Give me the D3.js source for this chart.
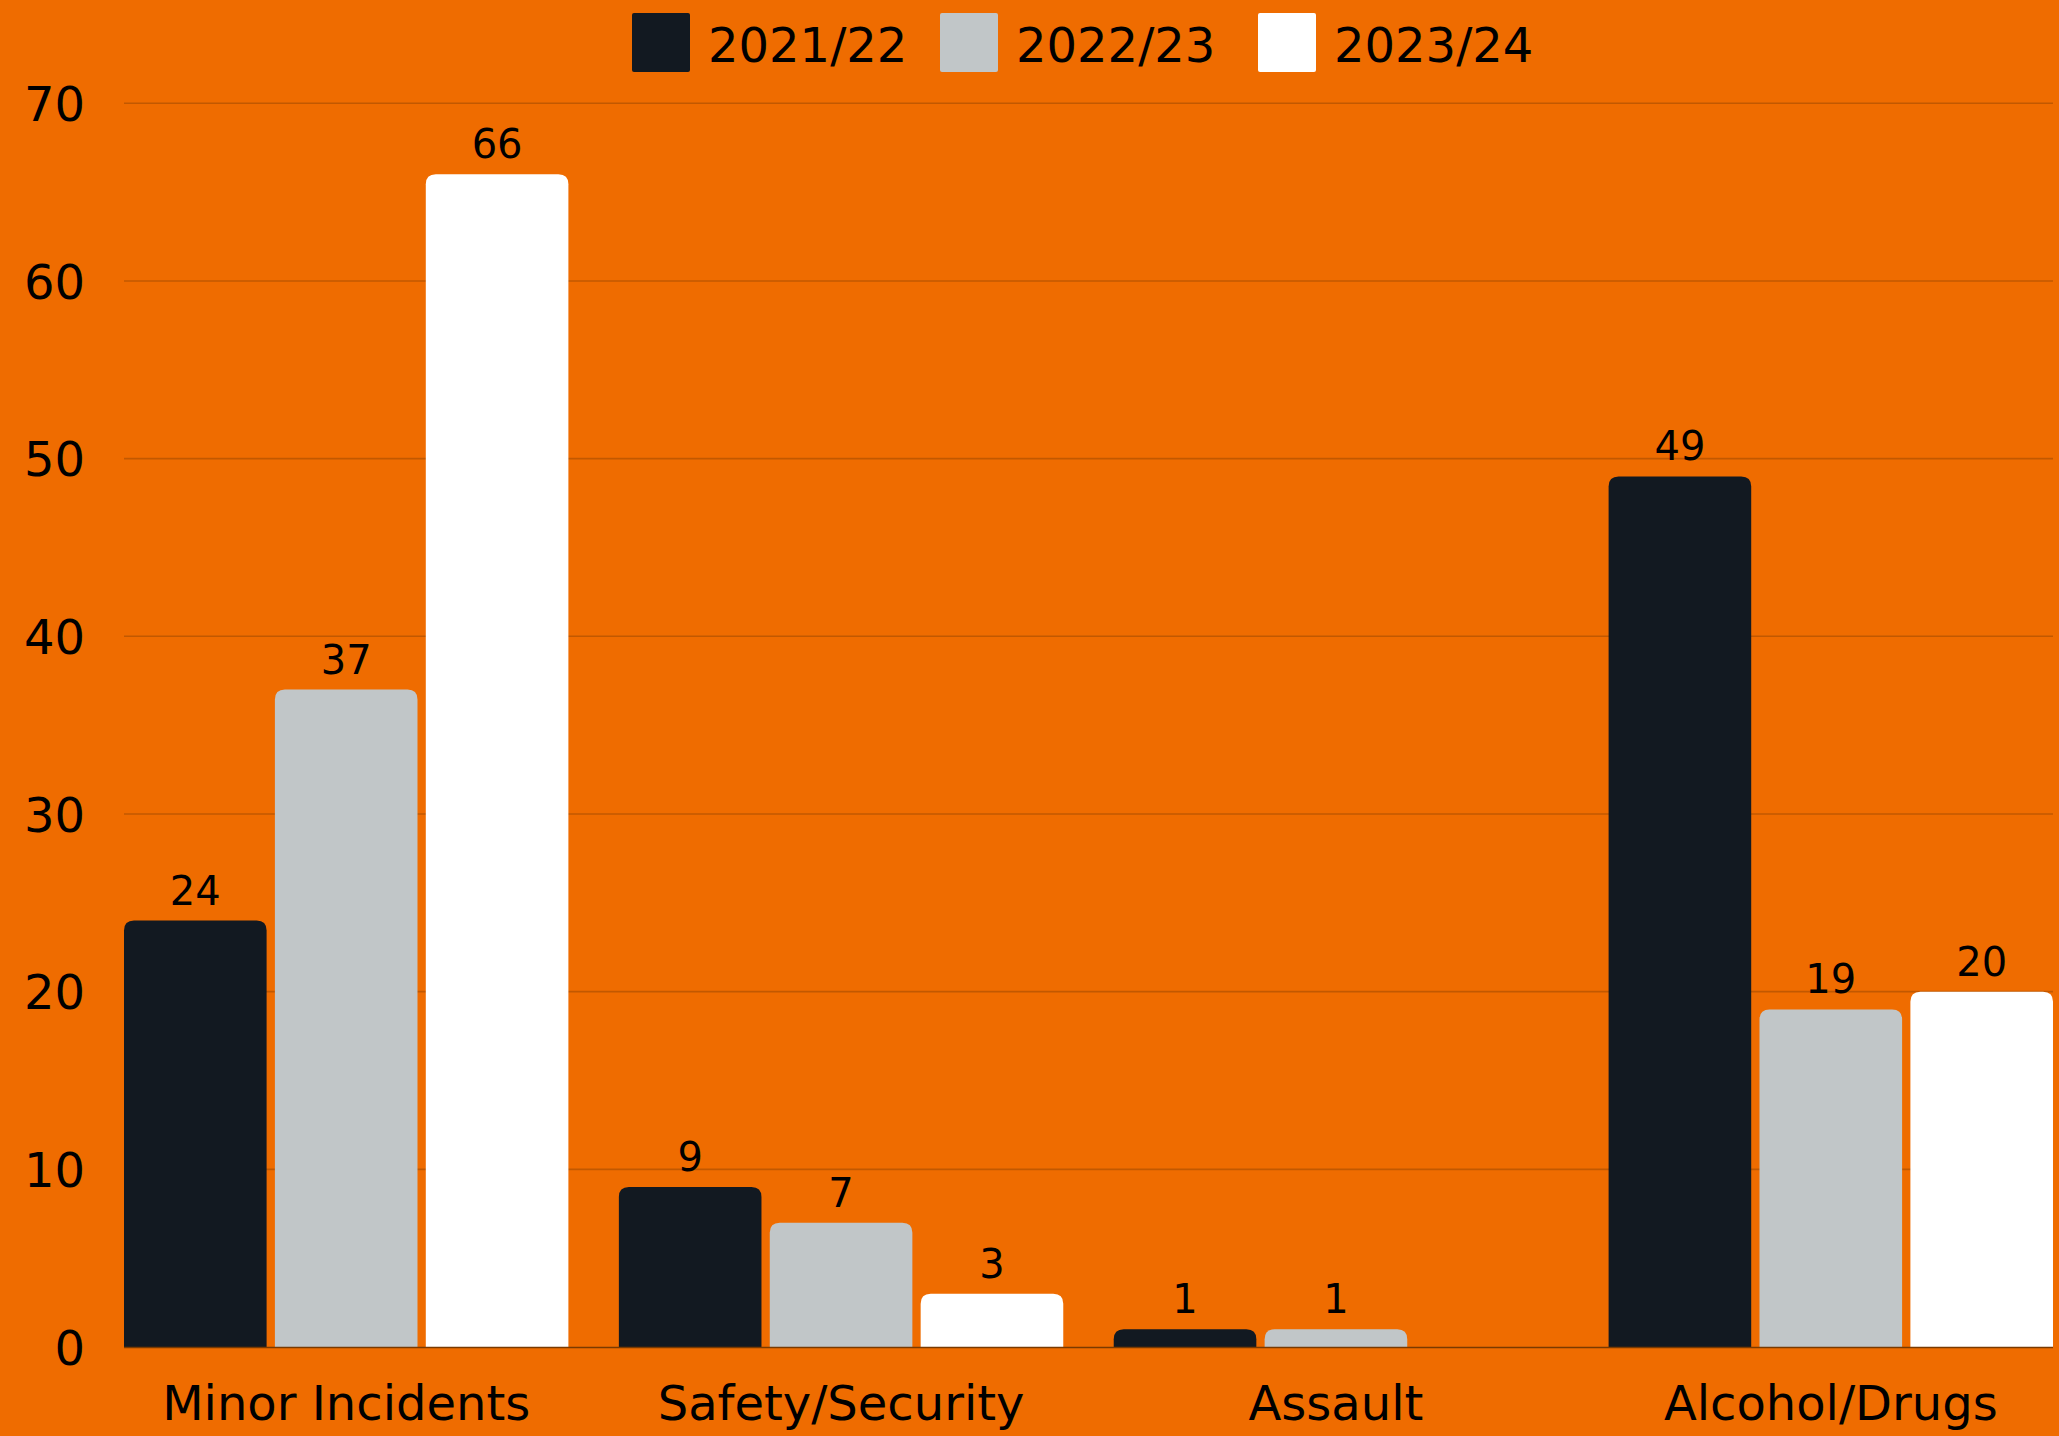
<!DOCTYPE html>
<html>
<head>
<meta charset="utf-8">
<script src="https://cdn.jsdelivr.net/npm/d3@7"></script>
<style>
  html, body { margin: 0; padding: 0; background: #EF6C00; }
  svg { display: block; }
  text { font-family: "DejaVu Sans", sans-serif; fill: #000; }
</style>
</head>
<body>
<svg id="chart" width="2059" height="1436"></svg>
<script>
const categories = ["Minor Incidents", "Safety/Security", "Assault", "Alcohol/Drugs"];
const seriesNames = ["2021/22", "2022/23", "2023/24"];
const seriesColors = ["#121921", "#C1C6C8", "#FFFFFF"];
const values2021 = [24, 9, 1, 49];
const values2022 = [37, 7, 1, 19];
const values2023 = [66, 3, null, 20];
const yTicks = [0, 10, 20, 30, 40, 50, 60, 70];

const seriesValues = [values2021, values2022, values2023];

const W = 2059, H = 1436;
const margin = { left: 124, right: 6, top: 103.3, bottom: 89 };
const svg = d3.select("#chart");

svg.append("rect").attr("width", W).attr("height", H).attr("fill", "#EF6C00");

const y = d3.scaleLinear().domain([0, 70]).range([H - margin.bottom, margin.top]);
const x0 = d3.scaleBand().domain(categories).range([margin.left, W - margin.right])
  .paddingInner(0.102).paddingOuter(0);
const x1 = d3.scaleBand().domain(seriesNames).range([0, x0.bandwidth()])
  .paddingInner(0.055).paddingOuter(0);

// gridlines
const grid = svg.append("g");
grid.selectAll("line").data(yTicks.filter(t => t > 0)).join("line")
  .attr("x1", margin.left).attr("x2", W - margin.right)
  .attr("y1", d => y(d)).attr("y2", d => y(d))
  .attr("stroke", "#C25800").attr("stroke-width", 1.6);

// y axis labels
const yAxis = d3.axisLeft(y).tickValues(yTicks).tickSize(0).tickPadding(0);
const yg = svg.append("g").attr("transform", `translate(85,0)`).call(yAxis);
yg.select(".domain").remove();
yg.selectAll("text")
  .attr("font-size", 48).attr("font-family", "DejaVu Sans, sans-serif")
  .attr("fill", "#000").attr("dy", "0.36em");

// bars
function barPath(x, w, yTop, yBase, r) {
  const h = yBase - yTop;
  r = Math.min(r, h, w / 2);
  return `M${x},${yBase}V${yTop + r}Q${x},${yTop} ${x + r},${yTop}H${x + w - r}Q${x + w},${yTop} ${x + w},${yTop + r}V${yBase}Z`;
}

const groups = svg.append("g").selectAll("g").data(categories).join("g")
  .attr("transform", c => `translate(${x0(c)},0)`);

groups.each(function(c, ci) {
  const g = d3.select(this);
  seriesNames.forEach((s, si) => {
    const v = seriesValues[si][ci];
    if (v == null || v === 0) return;
    g.append("path")
      .attr("d", barPath(x1(s), x1.bandwidth(), y(v), y(0), 10))
      .attr("fill", seriesColors[si]);
    g.append("text")
      .attr("x", x1(s) + x1.bandwidth() / 2)
      .attr("y", y(v) - 16)
      .attr("text-anchor", "middle")
      .attr("font-size", 40)
      .text(v);
  });
});

// baseline axis
const xAxis = d3.axisBottom(x0).tickSize(0).tickPadding(0);
const xg = svg.append("g").attr("transform", `translate(0,${y(0)})`).call(xAxis);
xg.select(".domain").attr("stroke", "#7A3A00").attr("stroke-width", 1.5)
  .attr("d", `M${margin.left},0.5H${W - margin.right}`);
xg.selectAll(".tick text")
  .attr("font-size", 48).attr("font-family", "DejaVu Sans, sans-serif")
  .attr("fill", "#000").attr("dy", null).attr("y", 73);

// legend
const legendX = [632, 940, 1258];
const legend = svg.append("g").selectAll("g").data(seriesNames).join("g")
  .attr("transform", (d, i) => `translate(${legendX[i]},13)`);
legend.append("rect").attr("width", 58).attr("height", 59).attr("rx", 2)
  .attr("fill", (d, i) => seriesColors[i]);
legend.append("text").attr("x", 76).attr("y", 48.5).attr("font-size", 48).text(d => d);
</script>
</body>
</html>
